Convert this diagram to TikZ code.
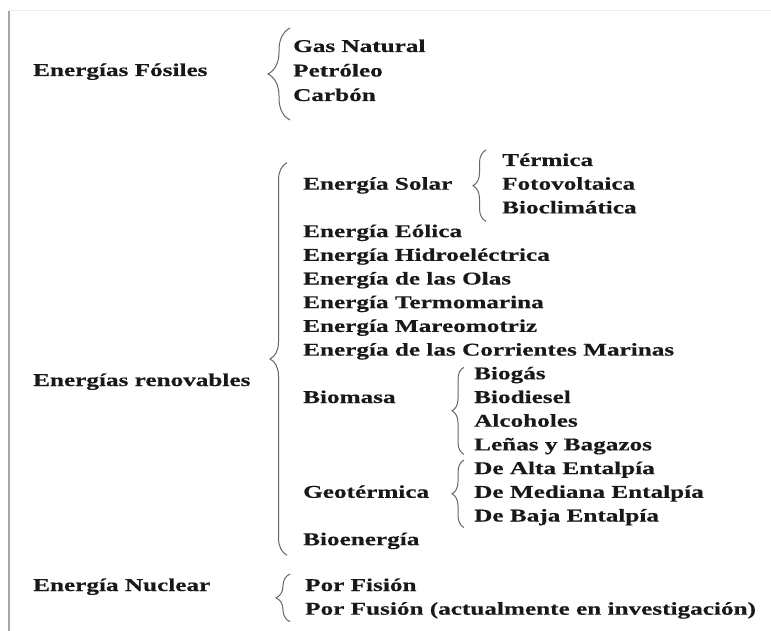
\documentclass[tikz,border=0pt]{standalone}
\usepackage{fontspec}
\newfontfamily\diagfont{Liberation Serif}[FakeStretch=1.4, FakeBold=0.4]
\usetikzlibrary{positioning,decorations.pathreplacing,calc}

\tikzset{%
    texto/.style   = {anchor=west, inner sep=0pt, text height=12pt, text depth=4pt,
        text=black!90, font=\diagfont\bfseries\fontsize{18pt}{20pt}\selectfont},
    debajo/.style  = {below=of #1.west, anchor=west},
    arriba/.style  = {above=of #1.west, anchor=west},
    llave/.style   = {draw=black!60, line width=1pt, decorate,
        decoration={brace, amplitude=#1}},
    llave/.default = 12pt,
}

\begin{document}
\begin{tikzpicture}[x=1pt, y=1pt, node distance=23.7pt]
    \useasboundingbox (0,0) rectangle (771,-631);
    % marco de la hoja
    \draw [black!35, line width=1.5pt] (9,-11) -- (9,-631);
    \draw [black!7, line width=1pt] (9,-11) -- (771,-11);

    % Fosiles
    \node [texto] (fosiles) at (33,-72) {Energías Fósiles};
    \begin{scope}[node distance=24.5pt]
        \node [texto] (gas) at (293,-48) {Gas Natural};
        \node [texto, debajo=gas] (petroleo) {Petróleo};
        \node [texto, debajo=petroleo] (carbon) {Carbón};
    \end{scope}

    % Renovables
    \node [texto] (renovables) at (33,-382) {Energías renovables};
    \node [texto] (solar) at (303,-185.7) {Energía Solar};
    \node [texto, right=199pt of solar.west] (fotovoltaica) {Fotovoltaica};
    \node [texto, arriba=fotovoltaica] (termica) {Térmica};
    \node [texto, debajo=fotovoltaica] (bioclimatica) {Bioclimática};
    \node [texto, debajo=solar, yshift=-23.7pt] (eolica) {Energía Eólica};
    \node [texto, debajo=eolica] (hidro) {Energía Hidroeléctrica};
    \node [texto, debajo=hidro] (olas) {Energía de las Olas};
    \node [texto, debajo=olas] (termomarina) {Energía Termomarina};
    \node [texto, debajo=termomarina] (mareomotriz) {Energía Mareomotriz};
    \node [texto, debajo=mareomotriz] (corrientes) {Energía de las Corrientes Marinas};

    \node [texto, debajo=corrientes, yshift=-23.7pt] (biomasa) {Biomasa};
    \node [texto, right=171pt of biomasa.west] (biodiesel) {Biodiesel};
    \node [texto, arriba=biodiesel] (biogas) {Biogás};
    \node [texto, debajo=biodiesel] (alcoholes) {Alcoholes};
    \node [texto, debajo=alcoholes] (lenas) {Leñas y Bagazos};
    \node [texto, debajo=lenas] (alta) {De Alta Entalpía};
    \node [texto, debajo=alta] (mediana) {De Mediana Entalpía};
    \node [texto, debajo=mediana] (baja) {De Baja Entalpía};
    \node [texto, left=171pt of mediana.west, anchor=west] (geotermica) {Geotérmica};
    \node [texto, debajo=geotermica, yshift=-23.7pt] (bioenergia) {Bioenergía};

    % Nuclear
    \node [texto] (nuclear) at (33,-587) {Energía Nuclear};
    \node [texto, right=272pt of nuclear.west] (fision) {Por Fisión};
    \node [texto, debajo=fision] (fusion) {Por Fusión (actualmente en investigación)};

    % llaves
    \draw [llave=22pt] ([xshift=-3pt, yshift=-23pt]carbon.west) -- ([xshift=-3pt, yshift=20pt]gas.west);
    \draw [llave=17pt] ([xshift=-16pt, yshift=-14pt]bioenergia.west) -- ([xshift=-16pt, yshift=23pt]solar.west);
    \draw [llave=13pt] ([xshift=-16pt, yshift=-12pt]bioclimatica.west) -- ([xshift=-16pt, yshift=12pt]termica.west);
    \draw [llave] ([xshift=-10pt, yshift=-8pt]lenas.west) -- ([xshift=-10pt, yshift=8pt]biogas.west);
    \draw [llave] ([xshift=-10pt, yshift=-10pt]baja.west) -- ([xshift=-10pt, yshift=10pt]alta.west);
    \draw [llave=14pt] ([xshift=-15pt, yshift=-11pt]fusion.west) -- ([xshift=-15pt, yshift=13pt]fision.west);
\end{tikzpicture}
\end{document}
